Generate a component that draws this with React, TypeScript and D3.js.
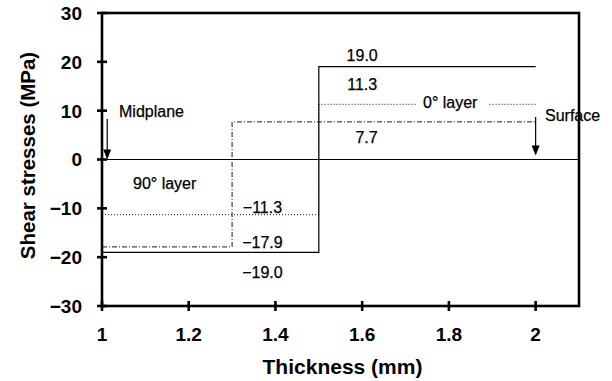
import React from "react";
import * as d3 from "d3";

// step boundaries (mm) and stress in each step (MPa)
const solidX = [1, 1.5, 2];
const solidY = [-19.0, 19.0];
const dottedX = [1, 1.5, 2];
const dottedY = [-11.3, 11.3];
const dashDotX = [1, 1.3, 2];
const dashDotY = [-17.9, 7.7];

const xTicks = [1, 1.2, 1.4, 1.6, 1.8, 2];
const yTicks = [-30, -20, -10, 0, 10, 20, 30];

// value labels: [text, x, y, baseline offset px]
const valueLabels: [string, number, number, number][] = [
  ["19.0", 1.6, 19.0, -6],
  ["11.3", 1.6, 11.3, -14],
  ["7.7", 1.61, 7.7, 21],
  ["\u221211.3", 1.37, -11.3, -2],
  ["\u221217.9", 1.37, -17.9, 1],
  ["\u221219.0", 1.37, -19.0, 26],
];

const W = 612;
const H = 381;
const margin = { top: 13, right: 33, bottom: 75, left: 102 };

const toSteps = (xs: number[], ys: number[]) =>
  xs.map((x, i) => ({ x, y: ys[Math.min(i, ys.length - 1)] }));

export default function App() {
  const x = d3.scaleLinear().domain([1, 2.1]).range([margin.left, W - margin.right]);
  const y = d3.scaleLinear().domain([-30, 30]).range([H - margin.bottom, margin.top]);

  const line = d3
    .line<{ x: number; y: number }>()
    .x((d) => x(d.x))
    .y((d) => y(d.y))
    .curve(d3.curveStepAfter);

  const font = "'Liberation Sans', Arial, sans-serif";
  const fmt = (v: number) => (v < 0 ? "\u2212" + Math.abs(v) : String(v));
  const noteSize = 16;

  // "0° layer" gap in dotted line
  const gapX0 = 416;
  const gapX1 = 489;

  const arrow = (ax: number, y0: number, y1: number) => (
    <g>
      <line x1={ax} x2={ax} y1={y0} y2={y1 - 8} stroke="#000" strokeWidth={1.2} />
      <path d={`M${ax - 4},${y1 - 10}L${ax + 4},${y1 - 10}L${ax},${y1}Z`} fill="#000" />
    </g>
  );

  const note = { fontSize: noteSize, stroke: "#000", strokeWidth: 0.25 };

  return (
    <svg
      width={W}
      height={H}
      style={{ position: "absolute", left: 0, top: 0, background: "#fff" }}
      fontFamily={font}
    >
      {/* zero line */}
      <line x1={x(1)} x2={x(2.1)} y1={y(0)} y2={y(0)} stroke="#000" strokeWidth={1.2} />

      {/* series */}
      <path d={line(toSteps(dottedX, dottedY)) || ""} fill="none" stroke="#000" strokeWidth={0.9} strokeDasharray="1,2" />
      <path d={line(toSteps(dashDotX, dashDotY)) || ""} fill="none" stroke="#000" strokeWidth={0.9} strokeDasharray="5,2,1,2" />
      <path d={line(toSteps(solidX, solidY)) || ""} fill="none" stroke="#000" strokeWidth={1.2} />

      {/* label background over dotted line */}
      <rect x={gapX0} y={y(11.3) - 10} width={gapX1 - gapX0} height={20} fill="#fff" />
      <text x={423} y={108} {...note}>0° layer</text>

      {valueLabels.map(([t, vx, vy, dy]) => (
        <text key={t} x={x(vx)} y={y(vy) + dy} textAnchor="middle" {...note}>
          {t}
        </text>
      ))}

      <text x={119} y={117} {...note}>Midplane</text>
      <text x={133} y={189} {...note}>90° layer</text>
      <text x={545} y={121} {...note}>Surface</text>
      {arrow(x(1.012), 119, y(0))}
      {arrow(x(2), 117, y(0) - 4)}

      {/* frame */}
      <rect
        x={x(1)}
        y={y(30)}
        width={x(2.1) - x(1)}
        height={y(-30) - y(30)}
        fill="none"
        stroke="#000"
        strokeWidth={2.6}
      />

      {/* y axis */}
      {yTicks.map((t) => (
        <g key={t}>
          <line x1={x(1) - 5} x2={x(1) + 5} y1={y(t)} y2={y(t)} stroke="#000" strokeWidth={2.6} />
          <text x={x(1) - 20} y={y(t)} dy="0.36em" textAnchor="end" fontSize={19} fontWeight="bold">
            {fmt(t)}
          </text>
        </g>
      ))}

      {/* x axis */}
      {xTicks.map((t) => (
        <g key={t}>
          <line x1={x(t)} x2={x(t)} y1={y(-30) - 5} y2={y(-30) + 5} stroke="#000" strokeWidth={2.6} />
          <text x={x(t)} y={341} textAnchor="middle" fontSize={19} fontWeight="bold">
            {t}
          </text>
        </g>
      ))}

      <text x={(x(1) + x(2.1)) / 2 + 2} y={374} textAnchor="middle" fontSize={21} fontWeight="bold">
        Thickness (mm)
      </text>
      <text
        transform={`translate(28,${(y(30) + y(-30)) / 2 - 4}) rotate(-90)`}
        dy="0.36em"
        textAnchor="middle"
        fontSize={20.5}
        fontWeight="bold"
      >
        Shear stresses (MPa)
      </text>
    </svg>
  );
}
